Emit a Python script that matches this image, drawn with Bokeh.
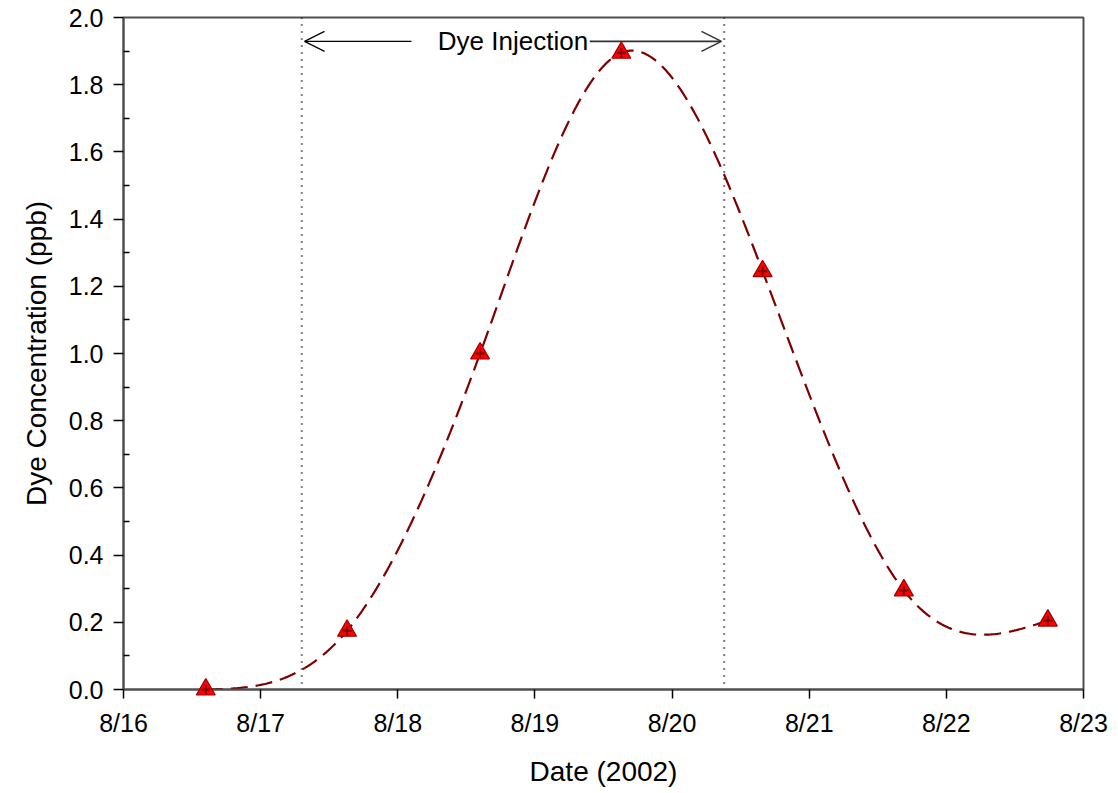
import numpy as np
from bokeh.plotting import figure
from bokeh.models import (FixedTicker, Span, Arrow, OpenHead, Label, Range1d,
                          NumeralTickFormatter)
from bokeh.embed import file_html
from bokeh.resources import INLINE

# Data (day of August 2002)
day = [16.60, 17.63, 18.60, 19.63, 20.66, 21.69, 22.74]
conc = [0.0, 0.175, 1.0, 1.895, 1.245, 0.295, 0.205]
x_ticks = [16, 17, 18, 19, 20, 21, 22, 23]
x_tick_labels = ["8/16", "8/17", "8/18", "8/19", "8/20", "8/21", "8/22", "8/23"]
y_ticks = [0.0, 0.2, 0.4, 0.6, 0.8, 1.0, 1.2, 1.4, 1.6, 1.8, 2.0]
y_minor = [0.1, 0.3, 0.5, 0.7, 0.9, 1.1, 1.3, 1.5, 1.7, 1.9]
injection_start = 17.30
injection_end = 20.38
annot_text = "Dye Injection"


def natural_spline(xs, ys, n=400):
    xs = np.asarray(xs, float)
    ys = np.asarray(ys, float)
    m = len(xs)
    h = np.diff(xs)
    A = np.zeros((m, m))
    b = np.zeros(m)
    A[0, 0] = 1
    A[-1, -1] = 1
    for i in range(1, m - 1):
        A[i, i - 1] = h[i - 1]
        A[i, i] = 2 * (h[i - 1] + h[i])
        A[i, i + 1] = h[i]
        b[i] = 6 * ((ys[i + 1] - ys[i]) / h[i] - (ys[i] - ys[i - 1]) / h[i - 1])
    M = np.linalg.solve(A, b)
    xx = np.linspace(xs[0], xs[-1], n)
    yy = np.empty_like(xx)
    for k, x in enumerate(xx):
        i = min(np.searchsorted(xs, x) - 1, m - 2)
        i = max(i, 0)
        t1 = xs[i + 1] - x
        t0 = x - xs[i]
        yy[k] = (M[i] * t1 ** 3 / (6 * h[i]) + M[i + 1] * t0 ** 3 / (6 * h[i])
                 + (ys[i] / h[i] - M[i] * h[i] / 6) * t1
                 + (ys[i + 1] / h[i] - M[i + 1] * h[i] / 6) * t0)
    return xx, yy


FONT = "Liberation Sans"
AXIS_COLOR = "#505050"

p = figure(frame_width=960, frame_height=672, output_backend="svg",
           toolbar_location=None,
           x_range=Range1d(16, 23), y_range=Range1d(0, 2.0),
           min_border_left=123, min_border_right=26, min_border_top=17,
           min_border_bottom=96)
p.background_fill_color = "white"
p.border_fill_color = "white"
p.grid.visible = False
p.outline_line_color = AXIS_COLOR
p.outline_line_width = 2

# Axes
xa = p.xaxis[0]
xa.ticker = FixedTicker(ticks=x_ticks, minor_ticks=[])
xa.major_label_overrides = {t: l for t, l in zip(x_ticks, x_tick_labels)}
xa.axis_label = "Date (2002)"
ya = p.yaxis[0]
ya.ticker = FixedTicker(ticks=y_ticks, minor_ticks=y_minor)
ya.formatter = NumeralTickFormatter(format="0.0")
ya.axis_label = "Dye Concentration (ppb)"

for ax in (xa, ya):
    ax.axis_line_color = AXIS_COLOR
    ax.axis_line_width = 2
    ax.major_tick_line_color = "black"
    ax.major_tick_line_width = 1.5
    ax.major_tick_in = 0
    ax.major_tick_out = 9
    ax.minor_tick_line_color = "black"
    ax.minor_tick_line_width = 1.5
    ax.minor_tick_in = 6
    ax.minor_tick_out = 0
    ax.major_label_text_font = FONT
    ax.major_label_text_font_size = "25px"
    ax.major_label_text_color = "black"
    ax.axis_label_text_font = FONT
    ax.axis_label_text_font_size = "28px"
    ax.axis_label_text_font_style = "normal"
    ax.axis_label_text_color = "black"

ya.major_tick_out = 10
xa.major_label_standoff = 10
xa.axis_label_standoff = 16
ya.major_label_standoff = 10
ya.axis_label_standoff = 14

# Injection period markers
for xv in (injection_start, injection_end):
    p.add_layout(Span(location=xv, dimension="height", line_color="black",
                      line_width=2, line_dash="1 6"))

arrow_y = 1.929
p.add_layout(Arrow(end=OpenHead(size=20, line_color="black", line_width=1.2),
                   x_start=18.10, y_start=arrow_y, x_end=injection_start + 0.02,
                   y_end=arrow_y, line_color="black", line_width=1.2))
p.add_layout(Arrow(end=OpenHead(size=20, line_color="#333333", line_width=1.5),
                   x_start=19.40, y_start=arrow_y, x_end=injection_end - 0.02,
                   y_end=arrow_y, line_color="#333333", line_width=1.8))
p.add_layout(Label(x=18.84, y=arrow_y, text=annot_text, text_font=FONT,
                   text_font_size="26px", text_align="center",
                   text_baseline="middle", text_color="black"))

# Smooth curve through the measurements
sx, sy = natural_spline(day, conc)
p.line(sx, sy, line_color="#800000", line_width=2.2, line_dash="17 8")

tri = p.scatter(day, conc, marker="triangle", size=19, fill_color="#ff0000",
                line_color="#9a0000", line_width=1.2, level="overlay")
crs = p.scatter(day, conc, marker="cross", size=9, line_color="#7a0000",
                line_width=2, level="overlay")

open("out.html", "w").write(file_html(p, INLINE))
